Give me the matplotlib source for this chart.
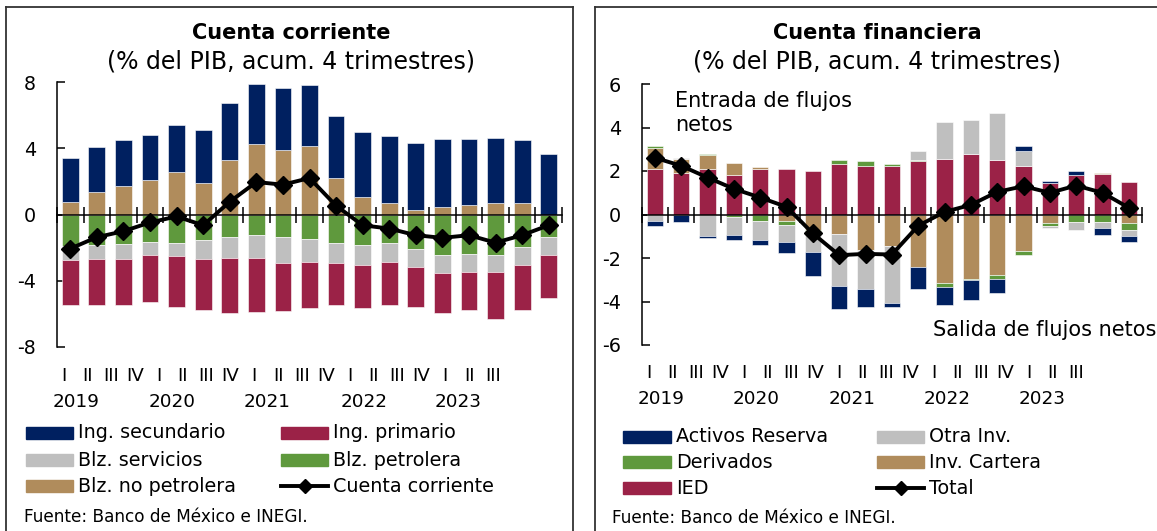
import numpy as np
import matplotlib
matplotlib.use("Agg")
import matplotlib.pyplot as plt
from matplotlib.patches import Rectangle
from matplotlib.lines import Line2D
import matplotlib.transforms as mtransforms

plt.rcParams['font.family'] = ['DejaVu Sans']
plt.rcParams['axes.unicode_minus'] = False

# ---------------- data ----------------
quarters = ["I", "II", "III", "IV"] * 4 + ["I", "II", "III"]
years = ["2019", "2020", "2021", "2022", "2023"]

# Cuenta corriente components (% PIB)
blz_no_petrolera = [0.73, 1.37, 1.70, 2.06, 2.55, 1.92, 3.27, 4.24, 3.92, 4.12, 2.22, 1.05, 0.71, 0.28, 0.48, 0.57, 0.69, 0.69, 0.00]
blz_petrolera = [-1.88, -1.86, -1.78, -1.64, -1.72, -1.52, -1.35, -1.21, -1.33, -1.45, -1.70, -1.86, -1.74, -2.10, -2.42, -2.40, -2.46, -1.98, -1.37]
blz_servicios = [-0.89, -0.83, -0.91, -0.82, -0.81, -1.15, -1.26, -1.40, -1.62, -1.42, -1.21, -1.17, -1.15, -1.05, -1.14, -1.05, -0.99, -1.05, -1.09]
ing_primario = [-2.72, -2.76, -2.76, -2.83, -3.07, -3.09, -3.35, -3.29, -2.87, -2.75, -2.56, -2.61, -2.60, -2.43, -2.36, -2.33, -2.83, -2.73, -2.59]
ing_secundario = [2.70, 2.71, 2.78, 2.77, 2.88, 3.19, 3.44, 3.64, 3.74, 3.70, 3.70, 3.92, 4.00, 4.02, 4.05, 3.96, 3.90, 3.79, 3.64]
cuenta_corriente = [-2.06, -1.37, -1.01, -0.48, -0.12, -0.65, 0.77, 1.96, 1.80, 2.20, 0.53, -0.65, -0.85, -1.25, -1.41, -1.25, -1.70, -1.25, -0.65]

# Cuenta financiera components (% PIB)
ied = [2.10, 1.90, 2.10, 1.83, 2.10, 2.10, 2.01, 2.33, 2.21, 2.24, 2.45, 2.56, 2.76, 2.52, 2.21, 1.47, 1.81, 1.84, 1.50]
inv_cartera = [0.98, 0.63, 0.63, 0.54, 0.08, -0.28, -0.72, -0.90, -1.64, -1.46, -2.41, -3.17, -2.96, -2.76, -1.66, -0.38, 0.00, 0.06, -0.38]
derivados = [0.05, 0.00, 0.05, -0.11, -0.31, -0.21, -0.11, 0.17, 0.27, 0.09, 0.06, -0.17, -0.06, -0.21, -0.18, -0.14, -0.34, -0.34, -0.35]
otra_inv = [-0.31, 0.08, -0.98, -0.84, -0.87, -0.78, -0.89, -2.40, -1.80, -2.59, 0.40, 1.67, 1.60, 2.14, 0.70, -0.08, -0.35, -0.28, -0.26]
activos_reserva = [-0.21, -0.35, -0.08, -0.20, -0.20, -0.52, -1.12, -1.04, -0.83, -0.21, -1.03, -0.80, -0.92, -0.66, 0.23, 0.08, 0.21, -0.31, -0.26]
total_fin = [2.61, 2.24, 1.70, 1.18, 0.78, 0.35, -0.87, -1.87, -1.81, -1.84, -0.52, 0.12, 0.44, 1.04, 1.30, 1.00, 1.33, 1.00, 0.31]

# ---------------- style ----------------
NAVY = "#002060"
RED = "#9B2247"
GREY = "#BFBFBF"
GREEN = "#5F993D"
TAN = "#B08C5C"

W, H = 1157, 531
fig = plt.figure(figsize=(W / 100, H / 100), dpi=100)

FS = 13.2      # tick / quarter / year labels
FS_LEG = 13.8  # legend text
FS_ANN = 15.0  # annotations
FS_SUB = 17.0  # subtitles
FS_SRC = 12.2  # source note


def px(x, y):
    return x / W, 1 - y / H


def stacked(ax, series, colors, width=0.63):
    n = len(series[0])
    x = np.arange(n)
    pos_base = np.zeros(n)
    neg_base = np.zeros(n)
    for vals, c in zip(series, colors):
        v = np.asarray(vals, dtype=float)
        pos = np.where(v > 0, v, 0)
        neg = np.where(v < 0, v, 0)
        m = pos > 0
        ax.bar(x[m], pos[m], bottom=pos_base[m], width=width, color=c,
               edgecolor="white", linewidth=0.4, zorder=2)
        m = neg < 0
        ax.bar(x[m], neg[m], bottom=neg_base[m], width=width, color=c,
               edgecolor="white", linewidth=0.4, zorder=2)
        pos_base += pos
        neg_base += neg


def setup_axes(ax, ylim, yticks, q_pos, y_pos, q_y, yr_y):
    n = 19
    ax.set_xlim(-0.5, n - 0.5)
    ax.set_ylim(*ylim)
    ax.set_yticks(yticks)
    ax.set_yticklabels([str(t) for t in yticks])
    for s in ("top", "right"):
        ax.spines[s].set_visible(False)
    ax.spines["bottom"].set_position(("data", 0))
    ax.spines["bottom"].set_zorder(4)
    ax.spines["left"].set_linewidth(1.1)
    ax.spines["bottom"].set_linewidth(1.1)
    ax.set_xticks(np.arange(-0.5, n, 1.0))
    ax.tick_params(axis="x", direction="inout", length=11, width=1.1, labelbottom=False)
    ax.tick_params(axis="y", direction="in", length=6, width=1.1, labelsize=FS + 0.6, pad=15)
    trans = mtransforms.blended_transform_factory(ax.transData, fig.transFigure)
    for xq, lab in zip(q_pos, quarters):
        ax.text(xq, q_y, lab, transform=trans, ha="center", va="center", fontsize=FS)
    for xy, lab in zip(y_pos, years):
        ax.text(xy, yr_y, lab, transform=trans, ha="center", va="center", fontsize=FS)


# ---------- left panel ----------
axL = fig.add_axes([57 / W, 1 - 347 / H, (562 - 57) / W, (347 - 82) / H])
stacked(axL, [blz_no_petrolera, blz_petrolera, blz_servicios, ing_primario, ing_secundario],
        [TAN, GREEN, GREY, RED, NAVY])
axL.plot(np.arange(19), cuenta_corriente, color="black", lw=2.8, marker="D",
         markersize=9, zorder=5)
qL = [-0.26 + i * 0.898 for i in range(19)]
setup_axes(axL, (-8, 8), [-8, -4, 0, 4, 8], qL, [0.22, 3.83, 7.4, 11.05, 14.6],
           1 - 376 / H, 1 - 402 / H)

fig.text(*px(291, 33), "Cuenta corriente", ha="center", va="center", fontsize=15, fontweight="bold")
fig.text(*px(291, 61), "(% del PIB, acum. 4 trimestres)", ha="center", va="center", fontsize=FS_SUB)

# ---------- right panel ----------
axR = fig.add_axes([641.7 / W, 1 - 345 / H, (1142 - 641.7) / W, (345 - 84) / H])
stacked(axR, [ied, inv_cartera, derivados, otra_inv, activos_reserva],
        [RED, TAN, GREEN, GREY, NAVY])
axR.plot(np.arange(19), total_fin, color="black", lw=2.8, marker="D",
         markersize=9, zorder=5)
qR = [-0.24 + i * 0.903 for i in range(19)]
setup_axes(axR, (-6, 6), [-6, -4, -2, 0, 2, 4, 6], qR, [0.25, 3.86, 7.5, 11.1, 14.7],
           1 - 373 / H, 1 - 399 / H)

fig.text(*px(877, 33), "Cuenta financiera", ha="center", va="center", fontsize=15, fontweight="bold")
fig.text(*px(877, 62), "(% del PIB, acum. 4 trimestres)", ha="center", va="center", fontsize=FS_SUB)
fig.text(*px(675, 113), "Entrada de flujos\nnetos", ha="left", va="center", fontsize=FS_ANN, linespacing=1.2)
fig.text(*px(1156, 330), "Salida de flujos netos", ha="right", va="center", fontsize=FS_ANN)

# ---------- legends ----------
def legend_item(x0, x1, xt, y, label, color, line=False):
    if line:
        fig.add_artist(Line2D([x0 / W, x1 / W], [1 - y / H, 1 - y / H], color="black", lw=2.8))
        fig.add_artist(Line2D([(x0 + x1) / 2 / W], [1 - y / H], color="black", marker="D",
                              markersize=7, lw=0))
    else:
        fig.add_artist(Rectangle((x0 / W, 1 - (y + 6) / H), (x1 - x0) / W, 12 / H,
                                 transform=fig.transFigure, color=color))
    fig.text(xt / W, 1 - y / H, label, ha="left", va="center", fontsize=FS_LEG)


rowsL = [433, 460, 486]
legend_item(26, 73, 78, rowsL[0], "Ing. secundario", NAVY)
legend_item(26, 73, 78, rowsL[1], "Blz. servicios", GREY)
legend_item(26, 73, 78, rowsL[2], "Blz. no petrolera", TAN)
legend_item(281, 328, 333, rowsL[0], "Ing. primario", RED)
legend_item(281, 328, 333, rowsL[1], "Blz. petrolera", GREEN)
legend_item(281, 328, 333, rowsL[2], "Cuenta corriente", None, line=True)
fig.text(24 / W, 1 - 517 / H, "Fuente: Banco de México e INEGI.", ha="left", va="center", fontsize=FS_SRC)

rowsR = [437, 462, 488]
legend_item(623, 671, 676, rowsR[0], "Activos Reserva", NAVY)
legend_item(623, 671, 676, rowsR[1], "Derivados", GREEN)
legend_item(623, 671, 676, rowsR[2], "IED", RED)
legend_item(877, 924, 929, rowsR[0], "Otra Inv.", GREY)
legend_item(877, 924, 929, rowsR[1], "Inv. Cartera", TAN)
legend_item(877, 924, 929, rowsR[2], "Total", None, line=True)
fig.text(612 / W, 1 - 518 / H, "Fuente: Banco de México e INEGI.", ha="left", va="center", fontsize=FS_SRC)

# ---------- panel frames ----------
def frame(x0, x1, y0, right=True):
    kw = dict(color="#333333", lw=1.3)
    fig.add_artist(Line2D([x0 / W, x1 / W], [1 - y0 / H, 1 - y0 / H], **kw))
    fig.add_artist(Line2D([x0 / W, x0 / W], [1 - y0 / H, 0], **kw))
    if right:
        fig.add_artist(Line2D([x1 / W, x1 / W], [1 - y0 / H, 0], **kw))


frame(6, 573, 6.5, right=True)
frame(595, 1157, 6.5, right=False)

fig.savefig("out.png", dpi=100)
